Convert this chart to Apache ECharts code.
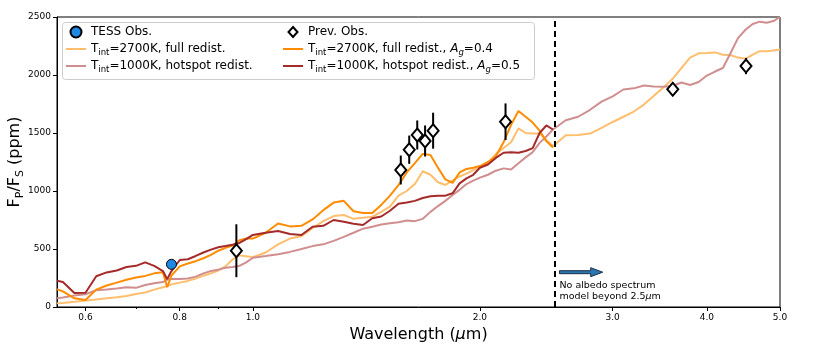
<!DOCTYPE html>
<html>
<head>
<meta charset="utf-8">
<title>Albedo spectrum</title>
<script src="https://cdn.jsdelivr.net/npm/echarts@6/dist/echarts.min.js"></script>
<style>
  html, body { margin: 0; padding: 0; background: #fff; }
  #chart { width: 830px; height: 346px; }
</style>
</head>
<body>
<div id="chart"></div>
<script>
// model wavelength grid (micron)
const modelWavelength = [
  0.55, 0.56, 0.58, 0.60, 0.62, 0.64, 0.66, 0.68, 0.70, 0.72, 0.74, 0.76, 0.77, 0.78, 0.80, 0.82, 0.84, 0.86, 0.88, 0.90, 0.92, 0.94, 0.96, 0.98,
  1.00, 1.04, 1.08, 1.12, 1.16, 1.20, 1.24, 1.28, 1.32, 1.36, 1.40, 1.44, 1.48, 1.52, 1.56, 1.60, 1.64, 1.68, 1.72, 1.76, 1.80, 1.84, 1.88, 1.92, 1.96,
  2.00, 2.05, 2.10, 2.15, 2.20, 2.25, 2.30, 2.35, 2.40, 2.45, 2.50,
  2.6, 2.7, 2.8, 2.9, 3.0, 3.1, 3.2, 3.3, 3.4, 3.5, 3.6, 3.7, 3.8, 3.9, 4.0, 4.1, 4.2, 4.3, 4.4, 4.5, 4.6, 4.7, 4.8, 4.9, 5.0
]

// Fp/Fs in ppm
const fullRedist2700 = [
  32, 35, 45, 55, 65, 75, 85, 95, 112, 125, 150, 170, 180, 195, 210, 225, 245, 270, 290, 315, 350, 410, 445, 438,
  430, 470, 540, 590, 610, 680, 740, 784, 793, 760, 770, 778, 820, 865, 960, 1000, 1060, 1170, 1140, 1075, 1052, 1090, 1125, 1150, 1180,
  1205, 1240, 1320, 1370, 1420, 1540, 1500, 1495, 1495, 1440, 1385,
  1480, 1483, 1495, 1545, 1595, 1640, 1685, 1745, 1820, 1890, 1965, 2060, 2150, 2187, 2190, 2195, 2175, 2170, 2150, 2140, 2175, 2205, 2205, 2212, 2220
]
const hotspot1000 = [
  75, 82, 100, 110, 145, 150, 160, 170, 165, 190, 205, 215, 235, 241, 241, 245, 262, 290, 310, 322, 338, 345, 355, 385,
  425, 440, 455, 475, 500, 525, 540, 570, 605, 640, 675, 692, 712, 721, 730, 745, 740, 760, 820, 870, 915, 965, 1010, 1060, 1090,
  1115, 1140, 1175, 1195, 1185, 1240, 1290, 1335, 1415, 1470, 1530,
  1610, 1640, 1700, 1770, 1815, 1875, 1885, 1910, 1900, 1899, 1905, 1935, 1914, 1940, 1995, 2030, 2060, 2190, 2320, 2390, 2440, 2460, 2450, 2465, 2500
]
// albedo models stop at 2.5 micron
const fullRedist2700Ag04 = [
  153, 135, 75, 60, 150, 185, 210, 235, 255, 268, 290, 300, 170, 270, 350, 375, 395, 420, 450, 485, 510, 530, 575, 590,
  590, 640, 720, 695, 700, 755, 835, 900, 915, 825, 810, 810, 880, 960, 1050, 1160, 1240, 1320, 1310, 1200, 1100, 1070, 1160, 1190, 1200,
  1215, 1250, 1300, 1420, 1570, 1690, 1640, 1590, 1520, 1430, 1375
]
const hotspot1000Ag05 = [
  227, 215, 120, 123, 265, 298, 315, 345, 355, 385, 355, 310, 240, 310, 405, 412, 440, 470, 495, 515, 525, 536, 552, 585,
  621, 640, 655, 630, 621, 692, 700, 750, 735, 718, 707, 765, 780, 830, 890, 900, 915, 940, 955, 960, 960, 980, 1066, 1109, 1140,
  1200, 1228, 1285, 1330, 1335, 1330, 1345, 1370, 1500, 1565, 1530
]

const tessWavelength = [0.78]
const tessFlux = [368]

const prevWavelength = [0.951, 1.571, 1.612, 1.652, 1.692, 1.734, 2.163, 3.604, 4.507]
const prevFlux = [485, 1181, 1356, 1483, 1431, 1520, 1597, 1877, 2077]
const prevError = [228, 125, 122, 125, 134, 155, 158, 55, 70]

const xTickLabels = [0.6, 0.8, 1.0, 2.0, 3.0, 4.0, 5.0]
const xMinorTicks = [0.7, 0.9]
const albedoLimit = 2.5

const xMin = Math.log10(0.55)
const xMax = Math.log10(5.0)

const toPoints = (wl, vals) => vals.map((v, i) => [Math.log10(wl[i]), v])

const names = {
  tess: 'TESS Obs.',
  prev: 'Prev. Obs.',
  full: 'T_int=2700K, full redist.',
  hot: 'T_int=1000K, hotspot redist.',
  fullAg: 'T_int=2700K, full redist., A_g=0.4',
  hotAg: 'T_int=1000K, hotspot redist., A_g=0.5'
}
const legendRich = {
  [names.tess]: '{n|TESS Obs.}',
  [names.prev]: '{n|Prev. Obs.}',
  [names.full]: '{n|T}{s|int}{n|=2700K, full redist.}',
  [names.hot]: '{n|T}{s|int}{n|=1000K, hotspot redist.}',
  [names.fullAg]: '{n|T}{s|int}{n|=2700K, full redist., }{i|A}{si|g}{n|=0.4}',
  [names.hotAg]: '{n|T}{s|int}{n|=1000K, hotspot redist., }{i|A}{si|g}{n|=0.5}'
}
const font = 'DejaVu Sans'
const richText = {
  n: { fontSize: 12, fontFamily: font, lineHeight: 16, color: '#000' },
  i: { fontSize: 12, fontFamily: font, fontStyle: 'italic', lineHeight: 16, color: '#000' },
  s: { fontSize: 8.5, fontFamily: font, verticalAlign: 'bottom', lineHeight: 10, color: '#000' },
  si: { fontSize: 8.5, fontFamily: font, fontStyle: 'italic', verticalAlign: 'bottom', lineHeight: 10, color: '#000' }
}
// legend icons: a thin bar for model lines, a small diamond for previous data
const lineIcon = 'path://M0,0 M20,11 M0,4.5 L20,4.5 L20,6.5 L0,6.5 Z'
const diamondIcon = 'path://M0,0 M20,11 M10,0.5 L14.5,5.5 L10,10.5 L5.5,5.5 Z'

const legendBase = {
  orient: 'vertical',
  top: 24,
  padding: 0,
  itemWidth: 20,
  itemHeight: 11,
  itemGap: 1,
  z: 10,
  selectedMode: false,
  formatter: name => legendRich[name],
  textStyle: { rich: richText, lineHeight: 16 }
}

const chart = echarts.init(document.getElementById('chart'))

chart.setOption({
  animation: false,
  textStyle: { fontFamily: font },
  grid: {
    left: 57, right: 50, top: 17, bottom: 39,
    containLabel: false, outerBoundsMode: 'none',
    show: true, borderColor: '#000', borderWidth: 1
  },
  legend: [
    Object.assign({}, legendBase, {
      left: 66,
      data: [names.tess, { name: names.full, icon: lineIcon }, { name: names.hot, icon: lineIcon }]
    }),
    Object.assign({}, legendBase, {
      left: 282,
      data: [{ name: names.prev, icon: diamondIcon }, { name: names.fullAg, icon: lineIcon }, { name: names.hotAg, icon: lineIcon }]
    })
  ],
  xAxis: [{
    type: 'value',
    min: xMin,
    max: xMax,
    position: 'bottom',
    name: '{n|Wavelength (}{i|μ}{n|m)}',
    nameLocation: 'middle',
    nameGap: 20,
    nameMoveOverlap: false,
    nameTextStyle: {
      rich: {
        n: { fontSize: 16, fontFamily: font, color: '#000' },
        i: { fontSize: 16, fontFamily: font, fontStyle: 'italic', color: '#000' }
      }
    },
    axisLine: { onZero: false, lineStyle: { color: '#000', width: 1 } },
    axisTick: { customValues: xTickLabels.map(v => Math.log10(v)), length: 4, lineStyle: { color: '#000' } },
    axisLabel: {
      customValues: xTickLabels.map(v => Math.log10(v)),
      formatter: v => Math.pow(10, v).toFixed(1),
      fontSize: 9,
      color: '#000',
      margin: 6
    },
    splitLine: { show: false }
  }, {
    type: 'value',
    min: xMin,
    max: xMax,
    position: 'bottom',
    axisLine: { show: false, onZero: false },
    axisTick: { customValues: xMinorTicks.map(v => Math.log10(v)), length: 2, lineStyle: { color: '#000' } },
    axisLabel: { show: false },
    splitLine: { show: false }
  }],
  yAxis: {
    type: 'value',
    min: 0,
    max: 2500,
    interval: 500,
    name: '{n|F}{s|P}{n|/F}{s|S}{n| (ppm)}',
    nameLocation: 'middle',
    nameGap: 31,
    nameRotate: 90,
    nameMoveOverlap: false,
    nameTextStyle: {
      rich: {
        n: { fontSize: 16, fontFamily: font, lineHeight: 22, color: '#000' },
        s: { fontSize: 11, fontFamily: font, lineHeight: 13, verticalAlign: 'bottom', color: '#000' }
      }
    },
    axisLine: { show: true, onZero: false, lineStyle: { color: '#000', width: 1 } },
    axisTick: { show: true, length: 4, lineStyle: { color: '#000' } },
    axisLabel: { fontSize: 9, color: '#000', margin: 6, formatter: v => String(v) },
    splitLine: { show: false }
  },
  series: [
    {
      name: names.full,
      type: 'line',
      symbol: 'none',
      z: 2,
      lineStyle: { color: '#ffbe6e', width: 2 },
      itemStyle: { color: '#ffbe6e' },
      data: toPoints(modelWavelength, fullRedist2700)
    },
    {
      name: names.hot,
      type: 'line',
      symbol: 'none',
      z: 2,
      lineStyle: { color: '#d08e8e', width: 2 },
      itemStyle: { color: '#d08e8e' },
      data: toPoints(modelWavelength, hotspot1000)
    },
    {
      name: names.fullAg,
      type: 'line',
      symbol: 'none',
      z: 3,
      lineStyle: { color: '#ff8c00', width: 2 },
      itemStyle: { color: '#ff8c00' },
      data: toPoints(modelWavelength, fullRedist2700Ag04)
    },
    {
      name: names.hotAg,
      type: 'line',
      symbol: 'none',
      z: 3,
      lineStyle: { color: '#a52a2a', width: 2 },
      itemStyle: { color: '#a52a2a' },
      data: toPoints(modelWavelength, hotspot1000Ag05),
      markLine: {
        silent: true,
        symbol: 'none',
        label: { show: false },
        lineStyle: { color: '#000', width: 2, type: [6, 4] },
        data: [{ xAxis: Math.log10(albedoLimit) }]
      }
    },
    {
      name: 'prev-errors',
      type: 'custom',
      z: 4,
      encode: { x: 0, y: 1 },
      data: prevWavelength.map((w, i) => [Math.log10(w), prevFlux[i], prevError[i]]),
      renderItem: (params, api) => {
        const x = api.value(0)
        const top = api.coord([x, api.value(1) + api.value(2)])
        const bottom = api.coord([x, api.value(1) - api.value(2)])
        return {
          type: 'line',
          shape: { x1: top[0], y1: top[1], x2: bottom[0], y2: bottom[1] },
          style: { stroke: '#000', lineWidth: 2 }
        }
      }
    },
    {
      name: names.prev,
      type: 'scatter',
      symbol: 'diamond',
      symbolSize: [11, 13],
      z: 5,
      itemStyle: { color: '#fff', borderColor: '#000', borderWidth: 2, opacity: 1 },
      data: toPoints(prevWavelength, prevFlux)
    },
    {
      name: names.tess,
      type: 'scatter',
      symbol: 'circle',
      symbolSize: 10,
      z: 5,
      itemStyle: { color: '#1e88e5', borderColor: '#000', borderWidth: 1, opacity: 1 },
      data: toPoints(tessWavelength, tessFlux)
    }
  ]
})

// annotation beyond the albedo limit
const a0 = chart.convertToPixel({ gridIndex: 0 }, [Math.log10(2.55), 300])
const a1 = chart.convertToPixel({ gridIndex: 0 }, [Math.log10(2.91), 300])
const ay = a0[1]
const head = 12
chart.setOption({
  graphic: [
    {
      type: 'rect',
      z: 9,
      shape: { x: 62.5, y: 22.5, width: 472, height: 57, r: 3 },
      style: { fill: 'rgba(255,255,255,0.85)', stroke: '#cccccc', lineWidth: 1 }
    },
    {
      type: 'polygon',
      z: 6,
      shape: {
        points: [
          [a0[0], ay - 1.5], [a1[0] - head, ay - 1.5], [a1[0] - head, ay - 4.5], [a1[0], ay],
          [a1[0] - head, ay + 4.5], [a1[0] - head, ay + 1.5], [a0[0], ay + 1.5]
        ]
      },
      style: { fill: '#2a74b0', stroke: '#1b2f45', lineWidth: 1 }
    },
    {
      type: 'text',
      z: 6,
      x: a0[0],
      y: ay + 8,
      style: {
        text: '{n|No albedo spectrum}\n{n|model beyond 2.5}{i|μ}{n|m}',
        rich: {
          n: { fontSize: 9.5, fontFamily: font, lineHeight: 11, fill: '#000' },
          i: { fontSize: 9.5, fontFamily: font, fontStyle: 'italic', lineHeight: 11, fill: '#000' }
        },
        align: 'left',
        verticalAlign: 'top'
      }
    }
  ]
})
</script>
</body>
</html>
